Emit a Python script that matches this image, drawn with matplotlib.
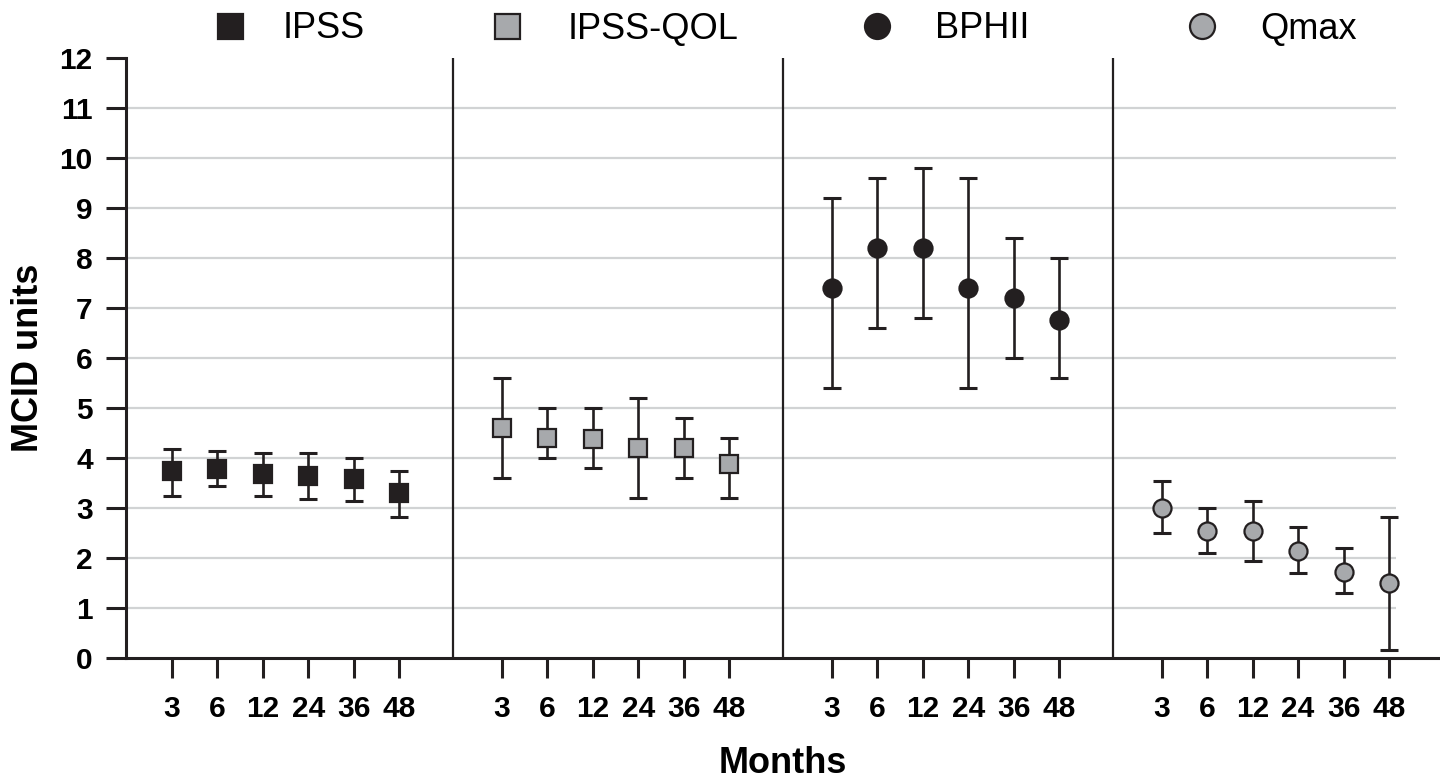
import matplotlib
matplotlib.use("Agg")
import matplotlib.pyplot as plt
from matplotlib.lines import Line2D
import numpy as np

months = ['3', '6', '12', '24', '36', '48']
measures = ['IPSS', 'IPSS-QOL', 'BPHII', 'Qmax']

ipss_mean = [3.74, 3.79, 3.69, 3.65, 3.59, 3.31]
ipss_lo = [3.25, 3.45, 3.25, 3.19, 3.15, 2.82]
ipss_hi = [4.19, 4.15, 4.11, 4.11, 4.00, 3.75]

qol_mean = [4.60, 4.40, 4.39, 4.21, 4.20, 3.88]
qol_lo = [3.60, 4.00, 3.80, 3.20, 3.60, 3.20]
qol_hi = [5.60, 5.00, 5.00, 5.20, 4.80, 4.40]

bphii_mean = [7.40, 8.20, 8.20, 7.40, 7.20, 6.76]
bphii_lo = [5.40, 6.60, 6.80, 5.40, 6.00, 5.60]
bphii_hi = [9.20, 9.60, 9.80, 9.60, 8.40, 8.00]

qmax_mean = [3.00, 2.55, 2.55, 2.15, 1.73, 1.50]
qmax_lo = [2.50, 2.10, 1.95, 1.70, 1.30, 0.16]
qmax_hi = [3.55, 3.00, 3.14, 2.63, 2.20, 2.83]

means = [ipss_mean, qol_mean, bphii_mean, qmax_mean]
los = [ipss_lo, qol_lo, bphii_lo, qmax_lo]
his = [ipss_hi, qol_hi, bphii_hi, qmax_hi]

BLACK = '#231f20'
GRAY = '#a7a9ac'
GRID = '#d1d3d4'
styles = [
    dict(marker='s', mfc=BLACK, mec=BLACK),
    dict(marker='s', mfc=GRAY, mec=BLACK),
    dict(marker='o', mfc=BLACK, mec=BLACK),
    dict(marker='o', mfc=GRAY, mec=BLACK),
]

plt.rcParams['font.family'] = ['Liberation Sans', 'DejaVu Sans']

fig = plt.figure(figsize=(14.4, 7.8), dpi=100)
ax = fig.add_axes([126 / 1440, 1 - 658 / 780, 1 - 126 / 1440, 600 / 780])

GROUP_STEP = 7.25
n = len(months)
xs_all = []
for g in range(len(measures)):
    xs = g * GROUP_STEP + np.arange(n)
    xs_all.extend(xs)
    yerr = [np.array(means[g]) - np.array(los[g]), np.array(his[g]) - np.array(means[g])]
    st = styles[g]
    ax.errorbar(xs, means[g], yerr=yerr, fmt='none', ecolor=BLACK,
                elinewidth=1.9, capsize=6.5, capthick=2.2, zorder=3)
    ax.plot(xs, means[g], linestyle='none', marker=st['marker'], markersize=13,
            markerfacecolor=st['mfc'], markeredgecolor=st['mec'],
            markeredgewidth=1.6, zorder=4)

# separators between groups
for g in range(1, len(measures)):
    xsep = (g - 1) * GROUP_STEP + (n - 1) + (GROUP_STEP - (n - 1)) / 2 + 0.05
    ax.axvline(xsep, color=BLACK, linewidth=1.6, zorder=2)

xmin = -1.01
xmax = 27.87
ax.set_xlim(xmin, xmax)
ax.set_ylim(0, 12)

# gridlines
ax.hlines(np.arange(1, 12), xmin, 26.9, colors=GRID, linewidth=1.6, zorder=1)

ax.set_yticks(np.arange(0, 13))
ax.set_yticklabels([str(v) for v in range(13)])
ax.set_xticks(xs_all)
ax.set_xticklabels(months * len(measures))

for s in ['top', 'right']:
    ax.spines[s].set_visible(False)
for s in ['left', 'bottom']:
    ax.spines[s].set_linewidth(2.2)
    ax.spines[s].set_color(BLACK)

ax.tick_params(axis='y', direction='out', length=14.4, width=2.2, color=BLACK,
               pad=9.5, labelsize=21.5, labelcolor='black')
ax.tick_params(axis='x', direction='out', length=14.4, width=2.2, color=BLACK,
               pad=12, labelsize=21.5, labelcolor='black')
for lab in ax.get_xticklabels() + ax.get_yticklabels():
    lab.set_fontweight('bold')

ax.set_xlabel('Months', fontsize=26, fontweight='bold', labelpad=17)
ax.set_ylabel('MCID units', fontsize=26, fontweight='bold', labelpad=10)

# legend: one entry per block, placed like the reference
leg_marker_x = [230, 507, 877, 1202]
leg_text_offset = [53, 61, 58, 58]
fs_px = 26 * 100 / 72
for g, name in enumerate(measures):
    st = styles[g]
    h = Line2D([], [], linestyle='none', marker=st['marker'], markersize=18,
               markerfacecolor=st['mfc'], markeredgecolor=st['mec'], markeredgewidth=1.6)
    hl = 1.0
    pad = (leg_text_offset[g] - hl * fs_px / 2) / fs_px
    left = leg_marker_x[g] - hl * fs_px / 2
    leg = fig.legend([h], [name], loc='center left',
                     bbox_to_anchor=(left / 1440, 1 - 29 / 780),
                     bbox_transform=fig.transFigure, frameon=False,
                     fontsize=26, handlelength=hl, handletextpad=pad,
                     borderpad=0, borderaxespad=0)

fig.savefig('out.png', dpi=100)
